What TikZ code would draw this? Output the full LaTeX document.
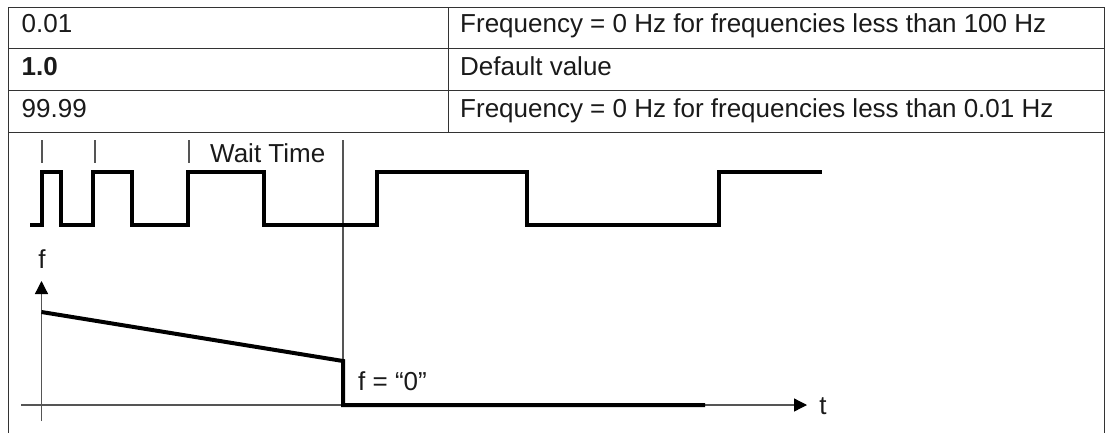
\documentclass[tikz,border=0pt]{standalone}
\usepackage{fontspec}
\setmainfont{Liberation Sans}
\usetikzlibrary{arrows.meta}
\definecolor{ink}{HTML}{1A1A1A}
\definecolor{rule}{HTML}{333333}
\definecolor{thin}{HTML}{555555}
\tikzset{
  txt/.style={inner sep=0pt, text=ink, font=\fontsize{26}{30}\selectfont},
  tablerule/.style={draw=rule, line width=1.5pt},
  thinline/.style={draw=thin, line width=1.3pt},
  thickline/.style={draw=black, line width=4pt, line join=miter},
  axis/.style={draw=thin, line width=1.3pt, -{Triangle[length=13pt,width=13pt,color=black]}},
}
\begin{document}
\begin{tikzpicture}[x=1pt,y=-1pt]
\useasboundingbox (0,0) rectangle (1111,432);
\fill[white] (0,0) rectangle (1111,432);
% table
\draw[tablerule] (8.5,436) -- (8.5,7.5) -- (1104.5,7.5) -- (1104.5,436);
\draw[tablerule] (8.5,48.5) -- (1104.5,48.5);
\draw[tablerule] (8.5,90.5) -- (1104.5,90.5);
\draw[tablerule] (8.5,132.5) -- (1104.5,132.5);
\draw[tablerule] (448.5,7.5) -- (448.5,132.5);
\node[txt, anchor=base west] (v1) at (21.5,32) {0.01};
\node[txt, anchor=base west] (v2) at (21.5,75) {\bfseries 1.0};
\node[txt, anchor=base west] (v3) at (21.5,117) {99.99};
\node[txt, anchor=base west] (d1) at (460,32) {Frequency = 0 Hz for frequencies less than 100 Hz};
\node[txt, anchor=base west] (d2) at (460,75) {Default value};
\node[txt, anchor=base west] (d3) at (460,117) {Frequency = 0 Hz for frequencies less than 0.01 Hz};
% ticks and wait time
\draw[thinline] (42,140) -- (42,163);
\draw[thinline] (95,140) -- (95,163);
\draw[thinline] (189,140) -- (189,163);
\node[txt, anchor=base west] (wait) at (210,162) {Wait Time};
% vertical marker line
\coordinate (mtop) at (343,140);
\coordinate (mbot) at (343,361);
\draw[thinline] (mtop) -- (mbot);
% pulse train
\draw[thickline] (30,225) -- (42,225) -- (42,172) -- (61,172) -- (61,225) -- (93,225) -- (93,172)
  -- (132,172) -- (132,225) -- (188,225) -- (188,172) -- (264,172) -- (264,225) -- (377,225)
  -- (377,172) -- (527,172) -- (527,225) -- (719,225) -- (719,172) -- (822,172);
% axes
\coordinate (xs) at (21,405);
\coordinate (xe) at (807,405);
\coordinate (ys) at (41.5,421);
\coordinate (ye) at (41.5,281);
\draw[axis] (xs) -- (xe);
\draw[axis] (ys) -- (ye);
\node[txt, anchor=base] (tl) at (823,414) {t};
\node[txt, anchor=base] (fl) at (42,268) {f};
% frequency curve
\draw[thickline] (41.5,312) -- (mbot) -- (343,405) -- (705,405);
\node[txt, anchor=base west] (f0) at (358,390) {f = “0”};
\end{tikzpicture}
\end{document}
